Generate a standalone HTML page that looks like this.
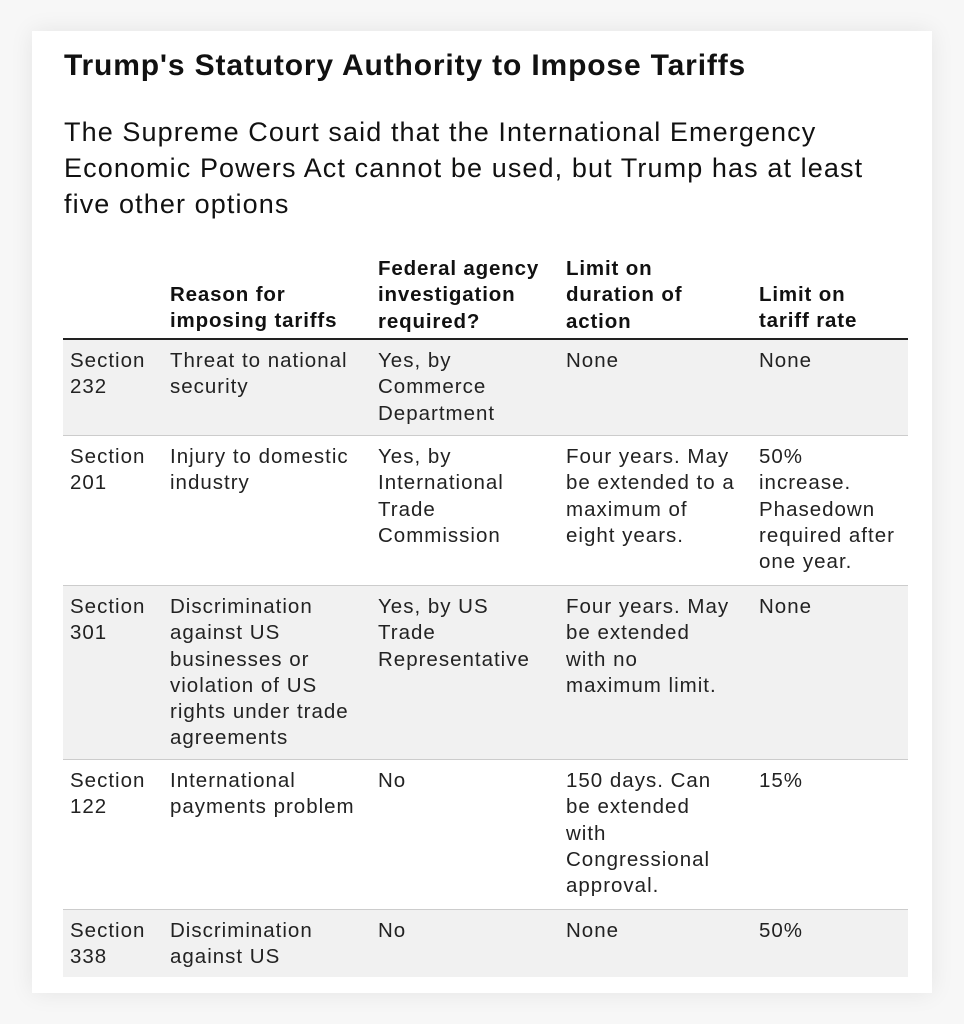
<!DOCTYPE html>
<html><head><style>
body{margin:0;width:964px;height:1024px;background:#f7f7f7;font-family:"Liberation Sans",Arial,sans-serif;color:#111;position:relative;overflow:hidden}
.card{position:absolute;left:32px;top:31px;width:900px;height:962px;background:#fff;box-shadow:0 0 22px rgba(0,0,0,0.08)}
h1{position:absolute;left:64px;top:49px;margin:0;font-size:30px;font-weight:bold;letter-spacing:0.85px;white-space:nowrap}
.sub{position:absolute;left:64px;top:114px;width:880px;margin:0;font-size:27px;line-height:36px;color:#111;letter-spacing:1.1px;white-space:nowrap}
.row{position:absolute;left:63px;width:845px}
.g{background:#f1f1f1}
.bl{border-bottom:1px solid #ccc}
.c{position:absolute;font-size:20.5px;line-height:26.3px;color:#222;letter-spacing:1.0px;white-space:nowrap}
.h{font-weight:bold;color:#111;letter-spacing:0.85px}
</style></head><body>
<div class="card"></div>
<h1>Trump's Statutory Authority to Impose Tariffs</h1>
<p class="sub">The Supreme Court said that the International Emergency<br>Economic Powers Act cannot be used, but Trump has at least<br>five other options</p>

<div class="c h" style="left:170px;top:282px">Reason for<br>imposing tariffs</div>
<div class="c h" style="left:378px;top:256px">Federal agency<br>investigation<br>required?</div>
<div class="c h" style="left:566px;top:256px">Limit on<br>duration of<br>action</div>
<div class="c h" style="left:759px;top:282px">Limit on<br>tariff rate</div>
<div class="row" style="top:338px;height:2px;background:#222"></div>

<div class="row g bl" style="top:340px;height:95px"></div>
<div class="row bl" style="top:436px;height:149px"></div>
<div class="row g bl" style="top:586px;height:173px"></div>
<div class="row bl" style="top:760px;height:149px"></div>
<div class="row g" style="top:910px;height:67px"></div>

<div class="c" style="left:70px;top:348px">Section<br>232</div>
<div class="c" style="left:170px;top:348px">Threat to national<br>security</div>
<div class="c" style="left:378px;top:348px">Yes, by<br>Commerce<br>Department</div>
<div class="c" style="left:566px;top:348px">None</div>
<div class="c" style="left:759px;top:348px">None</div>

<div class="c" style="left:70px;top:444px">Section<br>201</div>
<div class="c" style="left:170px;top:444px">Injury to domestic<br>industry</div>
<div class="c" style="left:378px;top:444px">Yes, by<br>International<br>Trade<br>Commission</div>
<div class="c" style="left:566px;top:444px">Four years. May<br>be extended to a<br>maximum of<br>eight years.</div>
<div class="c" style="left:759px;top:444px">50%<br>increase.<br>Phasedown<br>required after<br>one year.</div>

<div class="c" style="left:70px;top:594px">Section<br>301</div>
<div class="c" style="left:170px;top:594px">Discrimination<br>against US<br>businesses or<br>violation of US<br>rights under trade<br>agreements</div>
<div class="c" style="left:378px;top:594px">Yes, by US<br>Trade<br>Representative</div>
<div class="c" style="left:566px;top:594px">Four years. May<br>be extended<br>with no<br>maximum limit.</div>
<div class="c" style="left:759px;top:594px">None</div>

<div class="c" style="left:70px;top:768px">Section<br>122</div>
<div class="c" style="left:170px;top:768px">International<br>payments problem</div>
<div class="c" style="left:378px;top:768px">No</div>
<div class="c" style="left:566px;top:768px">150 days. Can<br>be extended<br>with<br>Congressional<br>approval.</div>
<div class="c" style="left:759px;top:768px">15%</div>

<div class="c" style="left:70px;top:918px">Section<br>338</div>
<div class="c" style="left:170px;top:918px">Discrimination<br>against US</div>
<div class="c" style="left:378px;top:918px">No</div>
<div class="c" style="left:566px;top:918px">None</div>
<div class="c" style="left:759px;top:918px">50%</div>
</body></html>
